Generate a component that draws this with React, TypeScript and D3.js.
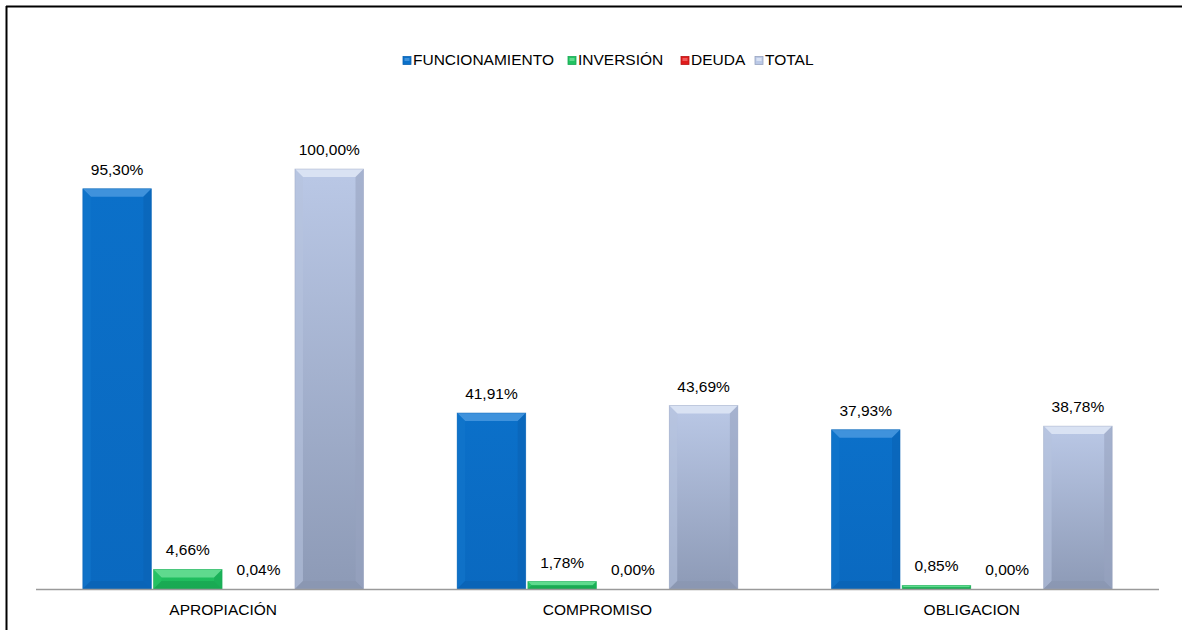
import React from "react";
import * as d3 from "d3";

const categories = ["APROPIACIÓN", "COMPROMISO", "OBLIGACION"];
const series = ["FUNCIONAMIENTO", "INVERSIÓN", "DEUDA", "TOTAL"];
const funcionamiento = [95.3, 41.91, 37.93];
const inversion = [4.66, 1.78, 0.85];
const deuda = [0.04, 0.0, 0.0];
const total = [100.0, 43.69, 38.78];
const seriesValues = [funcionamiento, inversion, deuda, total];

const palette = [
  { face: "#0b70c9", top: "#3f92dc", left: "#1376cc", right: "#0a63b4", bottom: "#0a5fae", faceBottom: "#0a69c0" },
  { face: "#22c262", top: "#5fda8e", left: "#2ac567", right: "#18a954", bottom: "#139a4a", faceBottom: "#1db85b" },
  { face: "#e01b1b", top: "#f05a5a", left: "#e53030", right: "#b81414", bottom: "#a51010", faceBottom: "#d01818" },
  { face: "#bac8e6", top: "#d9e2f3", left: "#b6c3de", right: "#98a4bf", bottom: "#8793ad", faceBottom: "#8d9ab6" },
];

const W = 1182;
const H = 630;
const FONT = "'Liberation Sans', Arial, sans-serif";
const fmt = (v: number) => v.toFixed(2).replace(".", ",") + "%";

function Bar({ x, y, w, h, si, id }: { x: number; y: number; w: number; h: number; si: number; id: string }) {
  const c = palette[si];
  if (h < 0.5) return null;
  const b = Math.min(8, h / 2, w / 2);
  const x2 = x + w;
  const y2 = y + h;
  return (
    <g>
      <defs>
        <linearGradient id={id} x1="0" y1="0" x2="0" y2="1">
          <stop offset="0" stopColor={c.face} />
          <stop offset="1" stopColor={c.faceBottom} />
        </linearGradient>
      </defs>
      <rect x={x} y={y} width={w} height={h} fill={`url(#${id})`} />
      <polygon points={`${x},${y} ${x2},${y} ${x2 - b},${y + b} ${x + b},${y + b}`} fill={c.top} />
      <polygon points={`${x},${y} ${x + b},${y + b} ${x + b},${y2 - b} ${x},${y2}`} fill={c.left} opacity={0.6} />
      <polygon points={`${x2},${y} ${x2},${y2} ${x2 - b},${y2 - b} ${x2 - b},${y + b}`} fill={c.right} opacity={0.6} />
      <polygon points={`${x},${y2} ${x + b},${y2 - b} ${x2 - b},${y2 - b} ${x2},${y2}`} fill={c.bottom} opacity={0.5} />
      <rect x={x} y={y} width={w} height={h} fill="none" stroke={c.right} strokeOpacity={0.5} strokeWidth={0.8} />
    </g>
  );
}

export default function App() {
  const left = 36;
  const right = 1159;
  const baseY = 589;
  const x0 = d3.scaleBand<string>().domain(categories).range([left, right]).paddingInner(0.25).paddingOuter(0.125);
  const x1 = d3.scaleBand<string>().domain(series).range([0, x0.bandwidth()]).paddingInner(0.03);
  const y = d3.scaleLinear().domain([0, 100]).range([baseY, 169]);

  const legendItems = [
    { x: 403, tx: 413 },
    { x: 568, tx: 578 },
    { x: 681, tx: 691 },
    { x: 755, tx: 765 },
  ];

  return (
    <svg width={W} height={H} style={{ position: "absolute", left: 0, top: 0, background: "#fff" }} fontFamily={FONT}>
      <rect x={0} y={0} width={W} height={H} fill="#fff" />
      <line x1={6} y1={6.5} x2={W} y2={6.5} stroke="#000" strokeWidth={2} />
      <line x1={6.5} y1={6} x2={6.5} y2={H} stroke="#000" strokeWidth={2} />

      {legendItems.map((li, i) => (
        <g key={series[i]}>
          <rect x={li.x} y={56.5} width={8} height={8} fill={palette[i].face} stroke={palette[i].right} strokeWidth={0.8} />
          <rect x={li.x + 1.5} y={58} width={5} height={3} fill={palette[i].top} />
          <text x={li.tx} y={64.5} fontSize={15.5} fill="#000">{series[i]}</text>
        </g>
      ))}

      {categories.map((cat, ci) => (
        <g key={cat}>
          {series.map((s, si) => {
            const v = seriesValues[si][ci];
            const bx = (x0(cat) as number) + (x1(s) as number);
            const bw = x1.bandwidth();
            const top = y(v);
            const h = baseY - top;
            return (
              <g key={s}>
                <Bar x={bx} y={top} w={bw} h={h} si={si} id={`g${ci}${si}`} />
                <text x={bx + bw / 2} y={top - 14} textAnchor="middle" fontSize={15.5} fill="#000">{fmt(v)}</text>
              </g>
            );
          })}
          <text x={(x0(cat) as number) + x0.bandwidth() / 2} y={615} textAnchor="middle" fontSize={15.5} fill="#000">{cat}</text>
        </g>
      ))}

      <line x1={left} y1={baseY + 0.5} x2={right} y2={baseY + 0.5} stroke="#9a9a9a" strokeWidth={1.6} />
    </svg>
  );
}
